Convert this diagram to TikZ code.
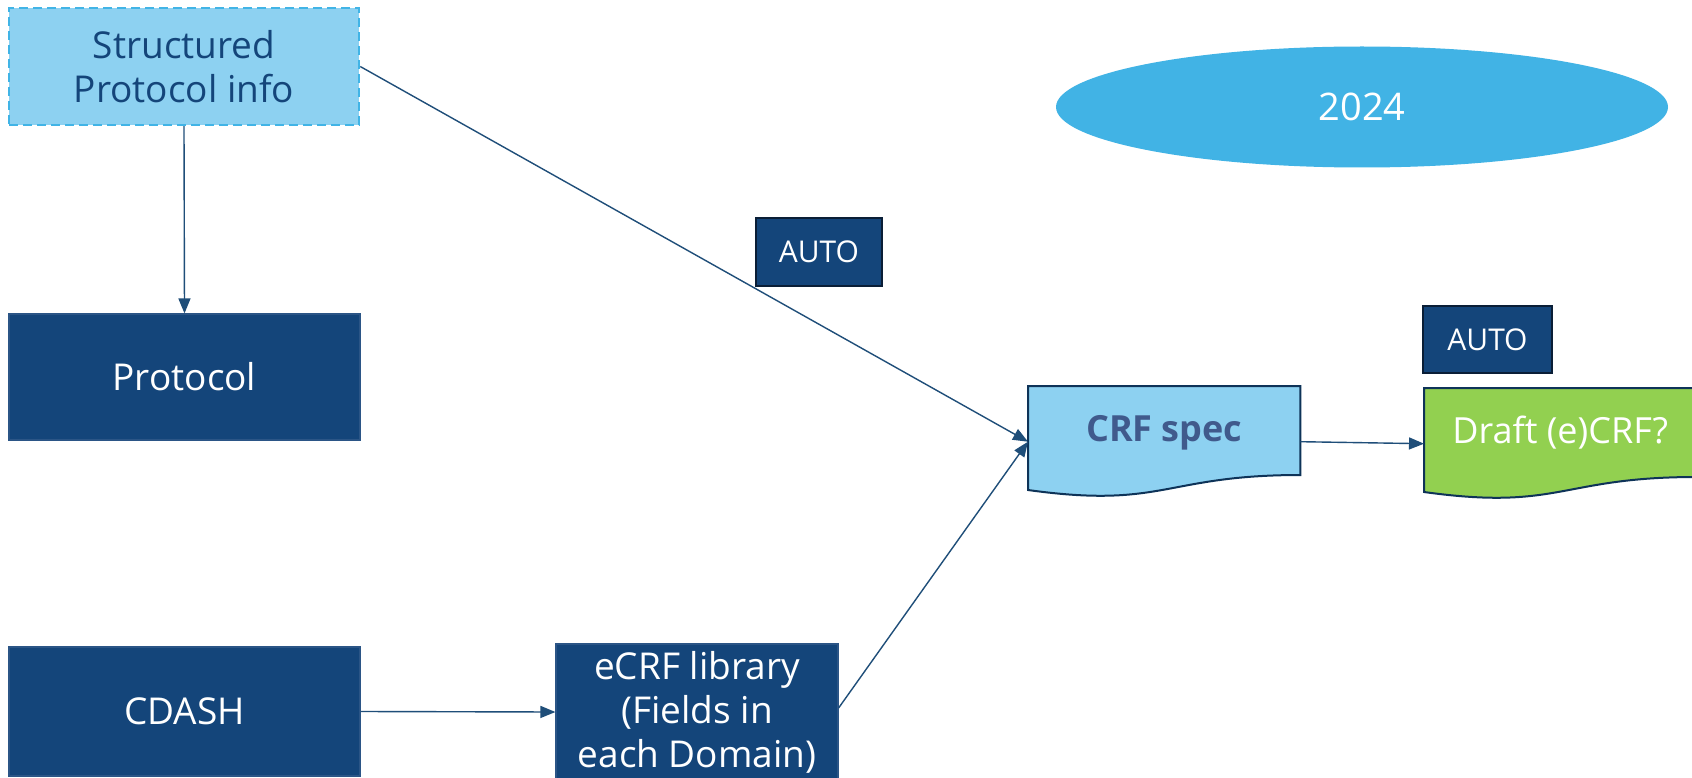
\documentclass[tikz,border=0pt]{standalone}
\usepackage{fontspec}
\setmainfont{Open Sans}
\usetikzlibrary{arrows.meta,calc,shapes.geometric}
\definecolor{navy}{HTML}{14457A}
\definecolor{navyedge}{HTML}{2B5586}
\definecolor{autoedge}{HTML}{0A1E36}
\definecolor{lightblue}{HTML}{8DD1F1}
\definecolor{dashblue}{HTML}{41B4E6}
\definecolor{skyblue}{HTML}{41B3E5}
\definecolor{draftgreen}{HTML}{92D050}
\definecolor{arrowblue}{HTML}{1F4E79}
\definecolor{spectext}{HTML}{405A8C}
\definecolor{docedge}{HTML}{0E3358}
\begin{document}
\begin{tikzpicture}[x=1pt,y=-1pt,
  box/.style={rectangle, inner sep=0pt, align=center, font=\fontsize{37}{44}\selectfont},
  navybox/.style={box, fill=navy, draw=navyedge, line width=1.2pt, text=white},
  autobox/.style={rectangle, fill=navy, draw=autoedge, line width=2pt, text=white,
    font=\fontsize{30}{36}\selectfont, inner sep=0pt},
  conn/.style={draw=arrowblue, line width=1.4pt, -{Triangle[length=15pt,width=12pt]}},
  docbox/.style={rectangle, minimum width=272pt, minimum height=111pt, inner sep=0pt, anchor=north west},
  doctext/.style={font=\fontsize{36}{43}\selectfont, inner sep=0pt},
]
\useasboundingbox (0,0) rectangle (1692,778);
\fill[white] (0,0) rectangle (1692,778);

% boxes
\node[box, fill=lightblue, draw=dashblue, line width=2.5pt, dash pattern=on 9pt off 5pt,
  text=navy, minimum width=350pt, minimum height=117pt] (spi) at (184,66.5) {Structured\\Protocol info};
\node[navybox, minimum width=351pt, minimum height=126pt] (proto) at (184.5,377) {Protocol};
\node[navybox, minimum width=351pt, minimum height=129pt] (cdash) at (184.5,711.5) {CDASH};
\node[navybox, minimum width=282pt, minimum height=136pt] (ecrf) at (697,712) {eCRF library\\(Fields in\\each Domain)};
\node[autobox, minimum width=126pt, minimum height=68pt] (auto1) at (819,252) {AUTO};
\node[autobox, minimum width=129pt, minimum height=67pt] (auto2) at (1487.5,339.5) {AUTO};
\node[ellipse, fill=skyblue, minimum width=612pt, minimum height=121pt, inner sep=0pt,
  text=white, font=\fontsize{38}{45}\selectfont] (year) at (1362,107) {2024};

% document shapes
\node[docbox] (crf) at (1028,386) {};
\node[docbox] (draft) at (1424,388) {};
\path[fill=lightblue, draw=docedge, line width=2pt]
  (crf.north west) -- (crf.north east) -- ($(crf.north east)+(0,89)$)
  .. controls ($(crf.north)+(0,89)$) and ($(crf.north)+(0,123)$) .. ($(crf.north west)+(0,104)$) -- cycle;
\path[fill=draftgreen, draw=docedge, line width=2pt]
  (draft.north west) -- (draft.north east) -- ($(draft.north east)+(0,89)$)
  .. controls ($(draft.north)+(0,89)$) and ($(draft.north)+(0,123)$) .. ($(draft.north west)+(0,104)$) -- cycle;
\node[doctext, font=\bfseries\fontsize{36}{43}\selectfont, text=spectext] (crft) at ($(crf.center)+(0,-9)$) {CRF spec};
\node[doctext, text=white] (draftt) at ($(draft.center)+(0,-11)$) {Draft (e)CRF?};

% connectors
\draw[conn] (spi.south) -- (proto.north);
\draw[conn] (spi.east) -- (crf.west);
\draw[conn] ($(ecrf.east)+(0,-4)$) -- (crf.west);
\draw[conn] (cdash.east) -- (ecrf.west);
\draw[conn] (crf.east) -- (draft.west);
\end{tikzpicture}
\end{document}
